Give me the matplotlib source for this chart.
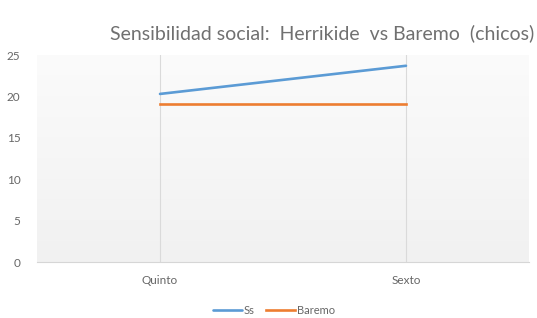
import numpy as np
import matplotlib.pyplot as plt

# datos
cursos = ['Quinto', 'Sexto']
ss = [20.3, 23.7]
baremo = [19.1, 19.1]
yticks = [0, 5, 10, 15, 20, 25]

plt.rcParams['font.family'] = ['Lato', 'DejaVu Sans']

fig = plt.figure(figsize=(5.37, 3.18), dpi=100)
ax = fig.add_axes([0.069, 0.176, 0.916, 0.651])

# fondo con degradado suave
grad = np.linspace(1.0, 0.0, 256).reshape(-1, 1)
ax.imshow(grad, extent=[0, 1, 0, 1], transform=ax.transAxes, aspect='auto',
          cmap=plt.matplotlib.colors.LinearSegmentedColormap.from_list('g', ['#f1f1f1', '#fbfbfb']),
          zorder=0)

x = np.arange(len(cursos))
ax.plot(x, ss, color='#5B9BD5', lw=1.9, label='Ss', zorder=3, solid_capstyle='round')
ax.plot(x, baremo, color='#ED7D31', lw=1.9, label='Baremo', zorder=3)

ax.set_xlim(-0.5, len(cursos) - 0.5)
ax.set_ylim(0, 25)
ax.set_yticks(yticks)
ax.set_xticks(x)
ax.set_xticklabels(cursos)
for xi in x:
    ax.axvline(xi, color='#dadada', lw=0.8, zorder=1)

for s in ['top', 'right', 'left']:
    ax.spines[s].set_visible(False)
ax.spines['bottom'].set_color('#d6d6d6')
ax.tick_params(length=0, colors='#666666', labelsize=8.5)
ax.tick_params(axis='x', pad=9)
ax.tick_params(axis='y', pad=12)

fig.text(0.6, 0.895, 'Sensibilidad social:  Herrikide  vs Baremo  (chicos)',
         ha='center', va='center', fontsize=14, color='#707070')

fig.legend(loc='center', bbox_to_anchor=(0.51, 0.025), ncol=2, frameon=False,
           fontsize=8, handlelength=2.6, handletextpad=0.2, columnspacing=1.0,
           labelcolor='#666666')

fig.savefig('out.png', dpi=100)
